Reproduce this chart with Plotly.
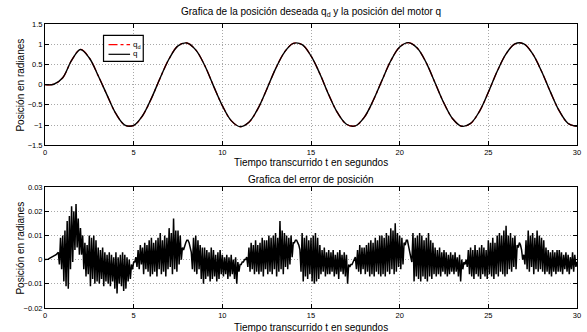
import plotly.graph_objects as go

# ---- data ----
pos_t = [i * 0.5 for i in range(61)]
qd_vals = [0.00, 0.01, 0.17, 0.60, 0.87, 0.66, 0.22, -0.26, -0.72, -1.00,
           -1.01, -0.77, -0.34, 0.17, 0.64, 0.96, 1.03, 0.86, 0.48, -0.03,
           -0.52, -0.89, -1.04, -0.93, -0.60, -0.12, 0.39, 0.80, 1.02, 0.99,
           0.71, 0.27, -0.25, -0.70, -0.98, -1.02, -0.81, -0.40, 0.10, 0.59,
           0.93, 1.04, 0.90, 0.54, 0.04, -0.46, -0.85, -1.03, -0.96, -0.66,
           -0.19, 0.33, 0.76, 1.01, 1.01, 0.76, 0.33, -0.18, -0.65, -0.96,
           -1.03]
q_vals = list(qd_vals)

# error envelope read every 0.125 s (upper and lower swing of the noise)
err_t = [i * 0.125 for i in range(240)]
err_hi = [
    0.000, 0.000, 0.0005, 0.001, 0.0015, 0.002, 0.003, 0.009,
    0.010, 0.012, 0.016, 0.018, 0.022, 0.020, 0.023, 0.017,
    0.013, 0.010, 0.007, 0.006, 0.010, 0.009, 0.010, 0.008,
    0.005, 0.004, 0.005, 0.003, 0.002, 0.003, 0.002, 0.001,
    0.003, 0.001, 0.002, 0.003, 0.002, 0.001, 0.000, -0.002,
    -0.001, 0.001, 0.004, 0.006, 0.005, 0.007, 0.006, 0.008,
    0.009, 0.007, 0.008, 0.009, 0.011, 0.008, 0.010, 0.009,
    0.013, 0.011, 0.017, 0.012, 0.012, 0.010, 0.005, 0.006,
    0.008, 0.007, 0.003, 0.009, 0.010, 0.008, 0.006, 0.005,
    0.005, 0.004, 0.003, 0.005, 0.004, 0.002, 0.003, 0.004,
    0.002, 0.001, 0.002, 0.001, 0.002, 0.000, 0.001, -0.001,
    -0.002, -0.001, 0.000, 0.001, 0.005, 0.007, 0.006, 0.008,
    0.006, 0.007, 0.009, 0.008, 0.008, 0.010, 0.009, 0.010,
    0.011, 0.009, 0.016, 0.012, 0.011, 0.010, 0.009, 0.010,
    0.007, 0.008, 0.007, 0.004, 0.011, 0.009, 0.010, 0.008,
    0.009, 0.010, 0.011, 0.009, 0.006, 0.004, 0.005, 0.003,
    0.004, 0.003, 0.004, 0.002, 0.003, 0.004, 0.002, 0.003,
    0.002, -0.002, -0.002, -0.001, 0.001, 0.004, 0.006, 0.005,
    0.005, 0.006, 0.007, 0.008, 0.007, 0.009, 0.008, 0.010,
    0.010, 0.009, 0.011, 0.010, 0.013, 0.012, 0.015, 0.011,
    0.010, 0.009, 0.007, 0.008, 0.005, 0.001, 0.011, 0.009,
    0.010, 0.011, 0.010, 0.008, 0.009, 0.011, 0.008, 0.007,
    0.005, 0.004, 0.005, 0.003, 0.004, 0.003, 0.002, 0.003,
    0.002, 0.003, 0.001, 0.002, 0.000, -0.001, 0.000, 0.004,
    0.005, 0.004, 0.006, 0.004, 0.005, 0.006, 0.005, 0.004,
    0.008, 0.007, 0.009, 0.007, 0.010, 0.011, 0.010, 0.012,
    0.014, 0.010, 0.011, 0.009, 0.010, 0.006, 0.007, 0.004,
    0.002, 0.008, 0.012, 0.010, 0.011, 0.009, 0.012, 0.010,
    0.009, 0.008, 0.005, 0.004, 0.003, 0.004, 0.003, 0.004,
    0.004, 0.003, 0.002, 0.003, 0.002, 0.001, 0.003, 0.002,
]
err_lo = [
    0.000, 0.0002, 0.0007, 0.0012, 0.0017, 0.0025, -0.002, -0.004,
    -0.009, -0.011, -0.012, -0.004, -0.001, 0.004, 0.005, 0.002,
    0.002, -0.004, -0.007, -0.006, -0.011, -0.008, -0.010, -0.009,
    -0.010, -0.008, -0.011, -0.009, -0.010, -0.011, -0.009, -0.012,
    -0.014, -0.010, -0.011, -0.013, -0.012, -0.009, -0.008, -0.004,
    -0.001, -0.003, -0.004, -0.002, -0.006, -0.004, -0.005, -0.007,
    -0.006, -0.005, -0.007, -0.004, -0.006, -0.005, -0.007, -0.004,
    -0.003, -0.006, -0.004, -0.005, -0.002, 0.000, 0.004, 0.007,
    0.008, 0.005, -0.004, -0.005, -0.006, -0.004, -0.008, -0.010,
    -0.008, -0.007, -0.009, -0.008, -0.007, -0.009, -0.008, -0.006,
    -0.007, -0.006, -0.008, -0.007, -0.006, -0.008, -0.010, -0.005,
    -0.002, -0.001, 0.000, -0.003, -0.005, -0.004, -0.006, -0.005,
    -0.006, -0.005, -0.007, -0.004, -0.006, -0.005, -0.006, -0.004,
    -0.007, -0.005, -0.004, -0.006, -0.003, -0.004, -0.002, 0.001,
    0.007, 0.008, 0.006, -0.005, -0.009, -0.007, -0.008, -0.006,
    -0.009, -0.010, -0.009, -0.008, -0.006, -0.005, -0.007, -0.006,
    -0.006, -0.005, -0.007, -0.006, -0.008, -0.005, -0.006, -0.007,
    -0.010, -0.003, -0.002, 0.000, -0.004, -0.005, -0.006, -0.004,
    -0.006, -0.005, -0.007, -0.006, -0.007, -0.005, -0.006, -0.007,
    -0.006, -0.007, -0.005, -0.006, -0.004, -0.006, -0.005, -0.003,
    -0.004, -0.002, 0.006, 0.008, 0.003, -0.001, -0.009, -0.007,
    -0.008, -0.009, -0.007, -0.008, -0.009, -0.007, -0.008, -0.006,
    -0.007, -0.006, -0.007, -0.005, -0.006, -0.007, -0.006, -0.005,
    -0.006, -0.005, -0.007, -0.009, -0.004, -0.002, -0.003, -0.006,
    -0.007, -0.008, -0.006, -0.007, -0.008, -0.006, -0.007, -0.008,
    -0.006, -0.007, -0.008, -0.006, -0.007, -0.005, -0.006, -0.007,
    -0.006, -0.004, -0.005, -0.003, -0.004, 0.005, 0.006, 0.000,
    -0.002, -0.004, -0.005, -0.003, -0.006, -0.004, -0.005, -0.004,
    -0.005, -0.006, -0.005, -0.006, -0.007, -0.005, -0.006, -0.005,
    -0.005, -0.006, -0.004, -0.005, -0.006, -0.004, -0.005, -0.003,
]
err_end = -0.001  # value at t = 30

x_ticks = [0, 5, 10, 15, 20, 25, 30]
pos_ticks = [-1.5, -1, -0.5, 0, 0.5, 1, 1.5]
err_ticks = [-0.02, -0.01, 0, 0.01, 0.02, 0.03]

title_top = "Grafica de la posición deseada q<sub>d</sub> y la posición del motor q"
title_bot = "Grafica del error de posición"
xlabel = "Tiempo transcurrido t en segundos"
ylabel = "Posición en radianes"
legend_labels = ["q<sub>d</sub>", "q"]

# ---- build the error zig-zag from the read envelope ----
ex, ey = [], []
for t, h, l in zip(err_t, err_hi, err_lo):
    ex += [t, t + 0.0625]
    ey += [h, l]
ex.append(30)
ey.append(err_end)

FONT = "Liberation Sans, Arial, Helvetica, sans-serif"

fig = go.Figure()
fig.add_trace(go.Scatter(x=pos_t, y=qd_vals, mode="lines", name=legend_labels[0],
                         line=dict(color="#ff0000", width=1.3, dash="dashdot", shape="spline"),
                         xaxis="x", yaxis="y", showlegend=False))
fig.add_trace(go.Scatter(x=pos_t, y=q_vals, mode="lines", name=legend_labels[1],
                         line=dict(color="black", width=1.4, shape="spline"),
                         xaxis="x", yaxis="y", showlegend=False))
fig.add_trace(go.Scatter(x=ex, y=ey, mode="lines", showlegend=False,
                         line=dict(color="black", width=1.5),
                         xaxis="x2", yaxis="y2"))

axis_common = dict(showline=True, linecolor="black", linewidth=1, mirror="ticks",
                   ticks="inside", ticklen=4, tickcolor="black",
                   showgrid=True, gridcolor="#a8a8a8", griddash="1px,2px", gridwidth=1,
                   zeroline=False, ticklabeloverflow="allow",
                   tickfont=dict(size=7.5, color="black", family=FONT))

fig.update_layout(
    width=587, height=332,
    margin=dict(l=45, r=6, t=24, b=24),
    paper_bgcolor="white", plot_bgcolor="white",
    font=dict(family=FONT, color="black"),
    xaxis=dict(domain=[0, 1], range=[0, 30], tickvals=x_ticks, anchor="y", **axis_common),
    yaxis=dict(domain=[0.573, 1], range=[-1.5, 1.5], tickvals=pos_ticks, anchor="x", **axis_common),
    xaxis2=dict(domain=[0, 1], range=[0, 30], tickvals=x_ticks, anchor="y2", **axis_common),
    yaxis2=dict(domain=[0, 0.426], range=[-0.02, 0.03], tickvals=err_ticks, anchor="x2", **axis_common),
    showlegend=False,
)

# compact MATLAB-style legend box (layout decoration, not data)
fig.add_shape(type="rect", xref="paper", yref="paper", x0=0.110, x1=0.1847, y0=0.8687, y1=0.960,
              line=dict(color="black", width=1.2), fillcolor="white", layer="above")
fig.add_shape(type="line", xref="paper", yref="paper", x0=0.1194, x1=0.1599, y0=0.9271, y1=0.9271,
              line=dict(color="#ff0000", width=1.2, dash="dashdot"), layer="above")
fig.add_shape(type="line", xref="paper", yref="paper", x0=0.1194, x1=0.1599, y0=0.8933, y1=0.8933,
              line=dict(color="black", width=1.2), layer="above")
leg = dict(xref="paper", yref="paper", showarrow=False, xanchor="left", yanchor="middle",
           font=dict(size=8, family=FONT, color="black"))
fig.add_annotation(text=legend_labels[0], x=0.1620, y=0.9271, **leg)
fig.add_annotation(text=legend_labels[1], x=0.1620, y=0.8950, **leg)

ann = dict(xref="paper", yref="paper", showarrow=False, font=dict(size=10, family=FONT, color="black"))
fig.add_annotation(text=title_top, x=0.5, y=1.043, xanchor="center", yanchor="middle", **ann)
fig.add_annotation(text=xlabel, x=0.5, y=0.511, xanchor="center", yanchor="middle", **ann)
fig.add_annotation(text=title_bot, x=0.5, y=0.451, xanchor="center", yanchor="middle", **ann)
fig.add_annotation(text=xlabel, x=0.5, y=-0.07, xanchor="center", yanchor="middle", **ann)
fig.add_annotation(text=ylabel, x=-0.046, y=0.785, xanchor="center", yanchor="middle", textangle=-90, **ann)
fig.add_annotation(text=ylabel, x=-0.046, y=0.211, xanchor="center", yanchor="middle", textangle=-90, **ann)

fig.write_html("out.html", config={"displayModeBar": False},
               post_script="document.body.style.margin='0';")
